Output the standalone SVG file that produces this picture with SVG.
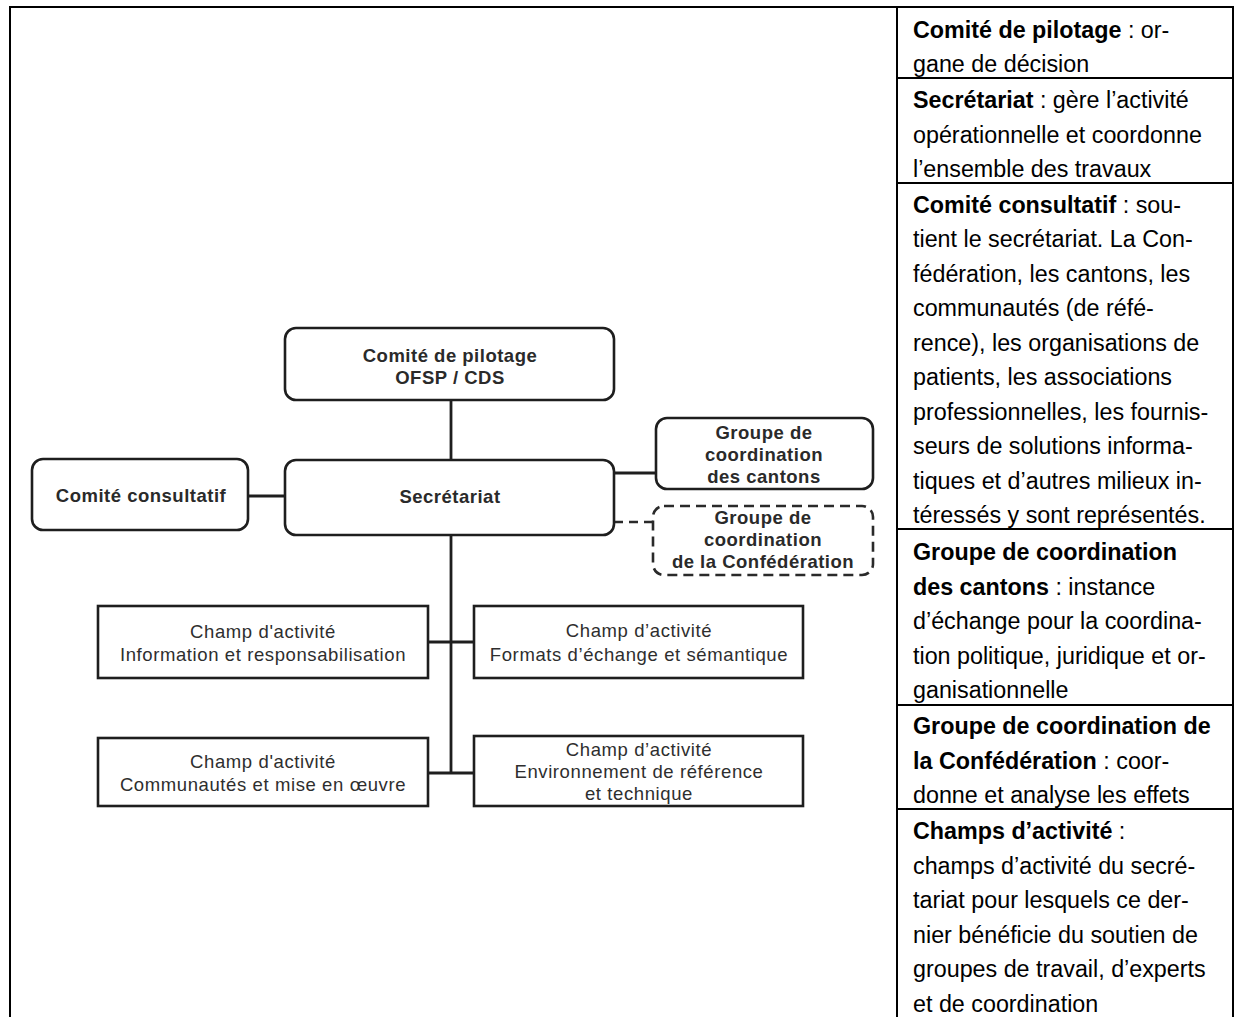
<svg xmlns="http://www.w3.org/2000/svg" width="1235" height="1017" viewBox="0 0 1235 1017">
<style>
.tbl{fill:none;stroke:#000;stroke-width:2}
.rt{font-family:"Liberation Sans",Arial,sans-serif;font-size:23.3px;fill:#000}
.b{font-weight:bold}
.box{fill:#fff;stroke:#1e1e1e;stroke-width:2.6}
.dash{fill:#fff;stroke:#2a2a2a;stroke-width:2.6;stroke-dasharray:10 6}
.bt{font-family:"Liberation Sans",Arial,sans-serif;font-size:18.5px;font-weight:bold;fill:#2a2a2a;text-anchor:middle;letter-spacing:0.5px}
.nt{font-family:"Liberation Sans",Arial,sans-serif;font-size:18.5px;fill:#2e2e2e;text-anchor:middle;letter-spacing:0.6px}
.con{fill:none;stroke:#1e1e1e;stroke-width:2.8}
.cond{fill:none;stroke:#2a2a2a;stroke-width:2.6;stroke-dasharray:9 6}
</style>
<rect width="1235" height="1017" fill="#fff"/>
<g id="table">
<path class="tbl" d="M10,1017 V7 H1233 V1017 M897,7 V1017 M897,78 H1233 M897,183 H1233 M897,529 H1233 M897,705 H1233 M897,809 H1233"/>
</g>
<g id="legend" class="rt">
<text x="913" y="38"><tspan class="b">Comité de pilotage</tspan> : or-</text>
<text x="913" y="72">gane de décision</text>
<text x="913" y="108"><tspan class="b">Secrétariat</tspan> : gère l’activité</text>
<text x="913" y="142.5">opérationnelle et coordonne</text>
<text x="913" y="177">l’ensemble des travaux</text>
<text x="913" y="212.5"><tspan class="b">Comité consultatif</tspan> : sou-</text>
<text x="913" y="247">tient le secrétariat. La Con-</text>
<text x="913" y="281.5">fédération, les cantons, les</text>
<text x="913" y="316">communautés (de réfé-</text>
<text x="913" y="350.5">rence), les organisations de</text>
<text x="913" y="385">patients, les associations</text>
<text x="913" y="419.5">professionnelles, les fournis-</text>
<text x="913" y="454">seurs de solutions informa-</text>
<text x="913" y="488.5">tiques et d’autres milieux in-</text>
<text x="913" y="523">téressés y sont représentés.</text>
<text x="913" y="560" class="b">Groupe de coordination</text>
<text x="913" y="594.5"><tspan class="b">des cantons</tspan> : instance</text>
<text x="913" y="629">d’échange pour la coordina-</text>
<text x="913" y="663.5">tion politique, juridique et or-</text>
<text x="913" y="698">ganisationnelle</text>
<text x="913" y="734" class="b">Groupe de coordination de</text>
<text x="913" y="768.5"><tspan class="b">la Confédération</tspan> : coor-</text>
<text x="913" y="803">donne et analyse les effets</text>
<text x="913" y="839"><tspan class="b">Champs d’activité</tspan> :</text>
<text x="913" y="873.5">champs d’activité du secré-</text>
<text x="913" y="908">tariat pour lesquels ce der-</text>
<text x="913" y="942.5">nier bénéficie du soutien de</text>
<text x="913" y="977">groupes de travail, d’experts</text>
<text x="913" y="1011.5">et de coordination</text>
</g>
<g id="connectors">
<path class="con" d="M451,400 V460 M248,496 H285 M614,473 H656 M451,535 V773 M428,642 H474 M428,773 H474"/>
<path class="cond" d="M614,522 H653"/>
</g>
<g id="pilotage">
<rect class="box" x="285" y="328" width="329" height="72" rx="11"/>
<text class="bt" x="450" y="362">Comité de pilotage</text>
<text class="bt" x="450" y="384">OFSP / CDS</text>
</g>
<g id="secretariat">
<rect class="box" x="285" y="460" width="329" height="75" rx="11"/>
<text class="bt" x="450" y="503">Secrétariat</text>
</g>
<g id="consultatif">
<rect class="box" x="32" y="459" width="216" height="71" rx="11"/>
<text class="bt" x="141" y="502">Comité consultatif</text>
</g>
<g id="cantons">
<rect class="box" x="656" y="418" width="217" height="71" rx="11"/>
<text class="bt" x="764" y="439">Groupe de</text>
<text class="bt" x="764" y="461">coordination</text>
<text class="bt" x="764" y="483">des cantons</text>
</g>
<g id="confederation">
<rect class="dash" x="653" y="506" width="220" height="69" rx="11"/>
<text class="bt" x="763" y="524">Groupe de</text>
<text class="bt" x="763" y="546">coordination</text>
<text class="bt" x="763" y="568">de la Confédération</text>
</g>
<g id="champ1">
<rect class="box" x="98" y="606" width="330" height="72"/>
<text class="nt" x="263" y="638">Champ d'activité</text>
<text class="nt" x="263" y="661">Information et responsabilisation</text>
</g>
<g id="champ2">
<rect class="box" x="474" y="606" width="329" height="72"/>
<text class="nt" x="639" y="637">Champ d’activité</text>
<text class="nt" x="639" y="661">Formats d’échange et sémantique</text>
</g>
<g id="champ3">
<rect class="box" x="98" y="738" width="330" height="68"/>
<text class="nt" x="263" y="768">Champ d'activité</text>
<text class="nt" x="263" y="791">Communautés et mise en œuvre</text>
</g>
<g id="champ4">
<rect class="box" x="474" y="736" width="329" height="70"/>
<text class="nt" x="639" y="756">Champ d’activité</text>
<text class="nt" x="639" y="778">Environnement de référence</text>
<text class="nt" x="639" y="800">et technique</text>
</g>
</svg>
